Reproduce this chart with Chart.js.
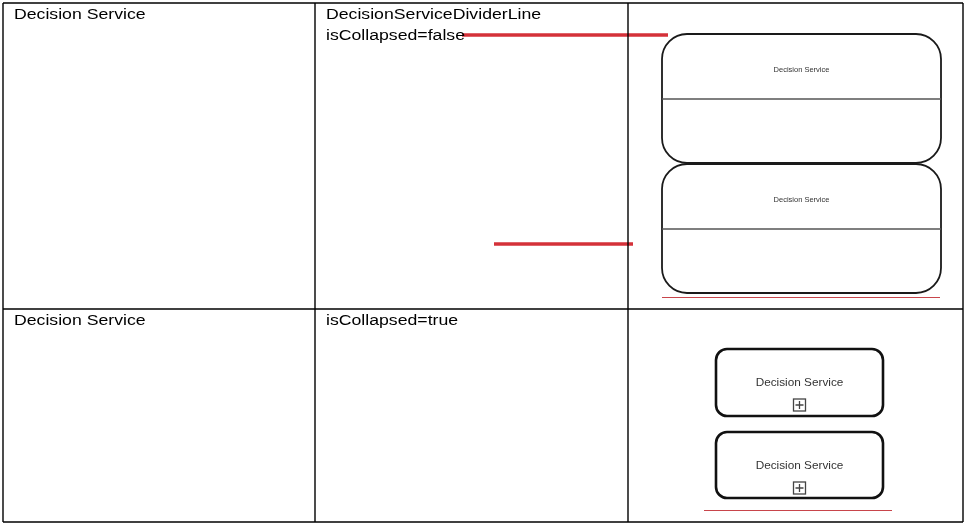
<!DOCTYPE html>
<html>
<head>
<meta charset="utf-8">
<script src="https://cdn.jsdelivr.net/npm/chart.js@4/dist/chart.umd.min.js"></script>
<style>
  html,body{margin:0;padding:0;background:#fff;}
  #wrap{width:965px;height:524px;position:relative;}
</style>
</head>
<body>
<div id="wrap"><canvas id="c" width="965" height="524"></canvas></div>
<script>
// ---- content ----
const rowNames = ["Decision Service", "Decision Service"];
const rowAttributes = [["DecisionServiceDividerLine", "isCollapsed=false"], ["isCollapsed=true"]];
const shapeLabel = "Decision Service";

// ---- table grid (plot units = pixels of the 965x524 frame) ----
const columnEdges = [3, 315, 628, 963];
const rowEdges = [3, 309, 522];

// ---- diagram shapes ----
const expandedX = [662, 941];
const expandedTops = [34, 164];
const expandedBottoms = [163, 293];
const expandedDividers = [99, 229];
const expandedLabelY = [70, 200];

const collapsedX = [716, 883];
const collapsedTops = [349, 432];
const collapsedBottoms = [416, 498];
const collapsedLabelY = [383, 466];
const collapsedIconY = [405, 488];

// ---- red markers ----
const thickMarkers = [[462, 35, 668, 35], [494, 244, 633, 244]];
const thinMarkers = [[662, 297.5, 940, 297.5], [704, 510.5, 892, 510.5]];

// ---- datasets ----
const datasets = [];
function seg(x0, y0, x1, y1, color, width) {
  datasets.push({
    type: 'line', data: [{x: x0, y: y0}, {x: x1, y: y1}],
    borderColor: color, borderWidth: width, pointRadius: 0,
    showLine: true, fill: false, tension: 0, clip: false
  });
}
const yTop = rowEdges[0], yBot = rowEdges[rowEdges.length - 1];
const xL = columnEdges[0], xR = columnEdges[columnEdges.length - 1];
columnEdges.forEach(x => seg(x, yTop, x, yBot, '#000', 1.4));
rowEdges.forEach(y => seg(xL, y, xR, y, '#000', 1.4));
thickMarkers.forEach(m => seg(m[0], m[1], m[2], m[3], '#d43139', 3.5));
thinMarkers.forEach(m => seg(m[0], m[1], m[2], m[3], '#c8454b', 1));

const drawPlugin = {
  id: 'diagram',
  afterDatasetsDraw(chart) {
    const ctx = chart.ctx;
    const sx = chart.scales.x, sy = chart.scales.y;
    const px = v => sx.getPixelForValue(v);
    const py = v => sy.getPixelForValue(v);

    function stretchedText(txt, x, y, size, color, stretch, align) {
      ctx.save();
      ctx.font = size + 'px "Liberation Sans", Arial, sans-serif';
      ctx.fillStyle = color;
      ctx.textBaseline = 'middle';
      ctx.translate(x, y);
      ctx.scale(stretch, 1);
      ctx.textAlign = align;
      ctx.fillText(txt, 0, 0);
      ctx.restore();
    }

    // table texts
    rowNames.forEach((t, i) => {
      stretchedText(t, px(columnEdges[0]) + 11, py(rowEdges[i]) + 12, 15.5, '#000', 1.14, 'left');
    });
    rowAttributes.forEach((lines, i) => {
      lines.forEach((t, j) => {
        stretchedText(t, px(columnEdges[1]) + 11, py(rowEdges[i]) + 12 + j * 21, 15.5, '#000', 1.14, 'left');
      });
    });

    // expanded decision services
    expandedTops.forEach((top, i) => {
      const x0 = px(expandedX[0]), x1 = px(expandedX[1]);
      const y0 = py(top), y1 = py(expandedBottoms[i]);
      ctx.save();
      ctx.strokeStyle = '#1a1a1a';
      ctx.lineWidth = 1.8;
      ctx.beginPath();
      ctx.roundRect(x0, y0, x1 - x0, y1 - y0, 25);
      ctx.stroke();
      ctx.strokeStyle = '#555';
      ctx.lineWidth = 1.3;
      ctx.beginPath();
      ctx.moveTo(x0, py(expandedDividers[i]));
      ctx.lineTo(x1, py(expandedDividers[i]));
      ctx.stroke();
      ctx.restore();
      stretchedText(shapeLabel, (x0 + x1) / 2, py(expandedLabelY[i]), 7.5, '#333', 1.0, 'center');
    });

    // collapsed decision services
    collapsedTops.forEach((top, i) => {
      const x0 = px(collapsedX[0]), x1 = px(collapsedX[1]);
      const y0 = py(top), y1 = py(collapsedBottoms[i]);
      ctx.save();
      ctx.strokeStyle = '#111';
      ctx.lineWidth = 2.6;
      ctx.beginPath();
      ctx.roundRect(x0, y0, x1 - x0, y1 - y0, 11);
      ctx.stroke();
      ctx.restore();
      const cx = (x0 + x1) / 2;
      stretchedText(shapeLabel, cx, py(collapsedLabelY[i]), 11, '#333', 1.07, 'center');
      const cy = py(collapsedIconY[i]);
      ctx.save();
      ctx.strokeStyle = '#444';
      ctx.lineWidth = 1.3;
      ctx.strokeRect(cx - 6, cy - 6, 12, 12);
      ctx.beginPath();
      ctx.moveTo(cx - 4, cy); ctx.lineTo(cx + 4, cy);
      ctx.moveTo(cx, cy - 4); ctx.lineTo(cx, cy + 4);
      ctx.stroke();
      ctx.restore();
    });
  }
};

new Chart(document.getElementById('c'), {
  type: 'scatter',
  data: { datasets },
  options: {
    responsive: false,
    animation: false,
    devicePixelRatio: 1,
    layout: { padding: 0 },
    plugins: { legend: { display: false }, tooltip: { enabled: false } },
    scales: {
      x: { type: 'linear', min: 0, max: 965, display: false },
      y: { type: 'linear', min: 0, max: 524, reverse: true, display: false }
    }
  },
  plugins: [drawPlugin]
});
</script>
</body>
</html>
